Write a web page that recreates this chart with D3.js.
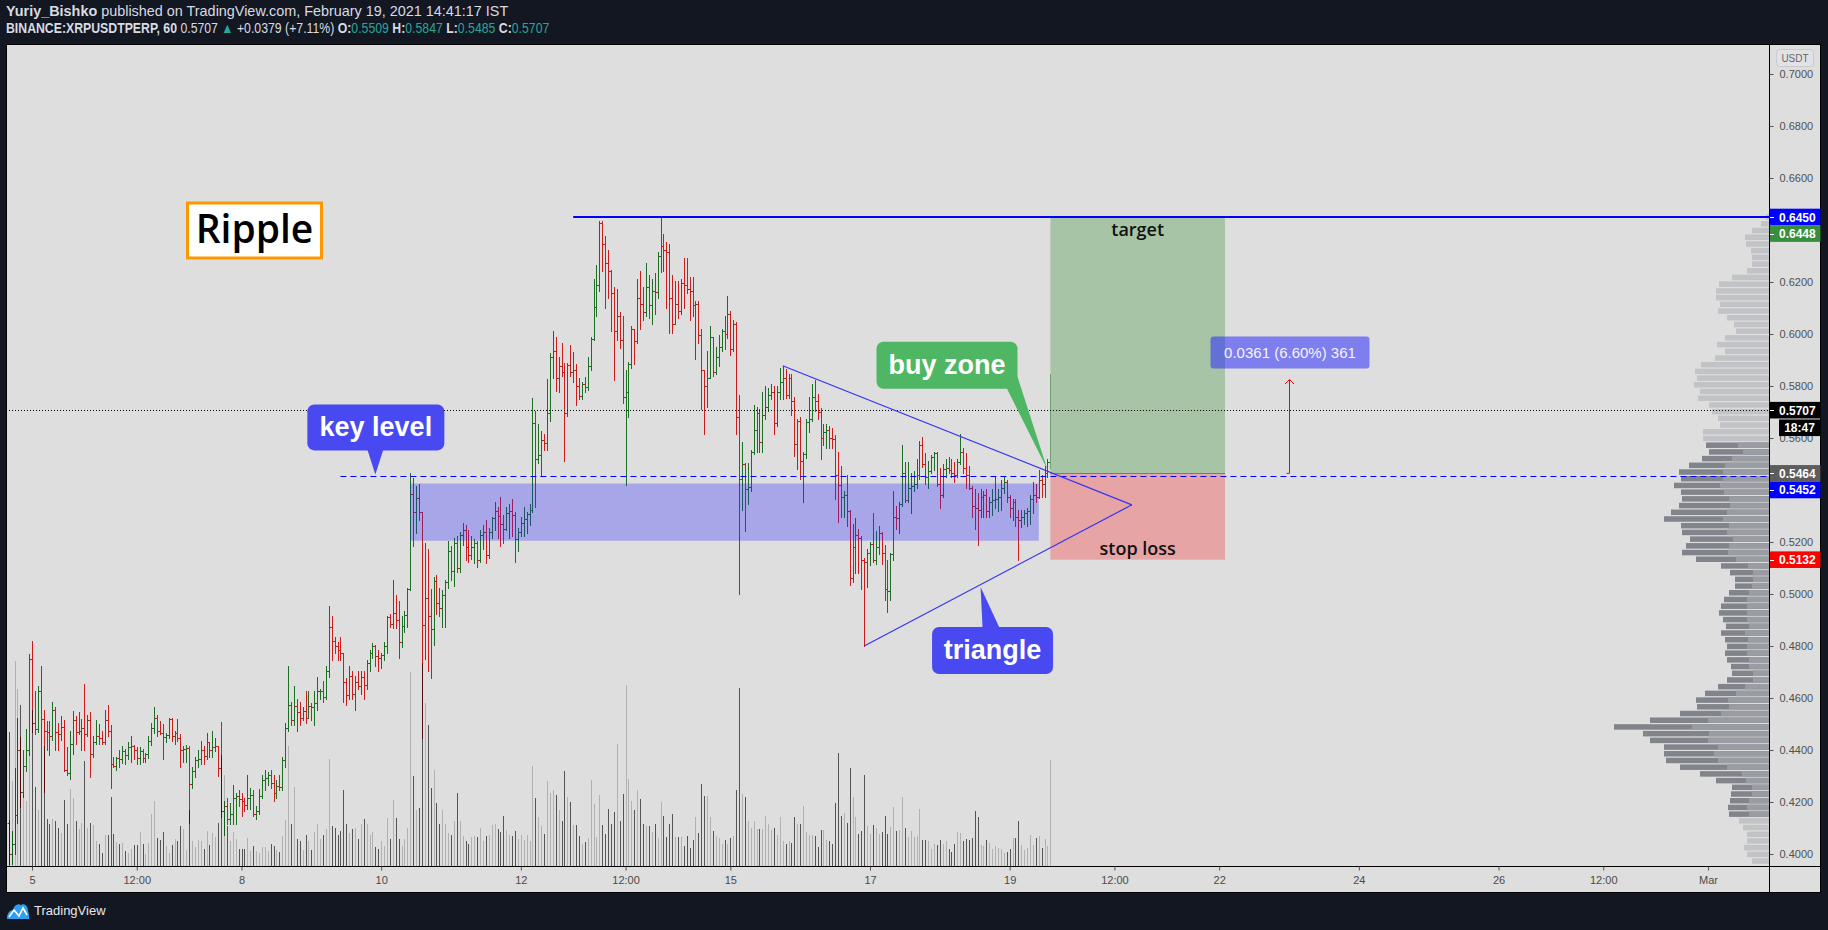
<!DOCTYPE html>
<html><head><meta charset="utf-8">
<script src="https://cdn.jsdelivr.net/npm/d3@7/dist/d3.min.js"></script>
<style>html,body{margin:0;padding:0;background:#131722;overflow:hidden}svg{display:block}</style>
</head><body>
<svg id="chart" width="1828" height="930"></svg>
<script>
// ---------------- DATA ----------------
const firstBarUTC = Date.UTC(2021, 1, 4, 16); // hourly bars, BINANCE:XRPUSDTPERP 60
const opens = [
.412,.400,.404,.415,.440,.424,.434,.440,.475,.4505,
.448,.4625,.452,.4475,.447,.4455,.4555,.447,.446,.449,
.4325,.431,.4425,.4515,.447,.4475,.4485,.446,.4515,.4386,
.4432,.4455,.4445,.443,.4515,.4475,.4345,.434,.437,.4365,
.4395,.438,.4412,.4415,.440,.4369,.4395,.437,.4385,.4435,
.4485,.4525,.4475,.4465,.445,.4458,.452,.4455,.4465,.4445,
.440,.4405,.4408,.427,.432,.436,.4365,.440,.4376,.443,
.440,.441,.4415,.4332,.4165,.4185,.4135,.4155,.4215,.4222,
.4212,.4205,.419,.4215,.4228,.4152,.4165,.4225,.4285,.4292,
.4305,.4275,.4235,.4262,.4258,.436,.4485,.4575,.4515,.457,
.4545,.4525,.455,.4525,.457,.4565,.458,.4625,.4628,.4605,
.4705,.4875,.482,.480,.4785,.4775,.466,.461,.4685,.4615,
.466,.4645,.468,.465,.4735,.4775,.480,.476,.4752,.4765,
.480,.491,.4886,.4926,.490,.4815,.4878,.4918,.502,.5386,
.5315,.537,.5315,.488,.4985,.4915,.4865,.505,.4965,.4945,
.4995,.5045,.5165,.509,.5195,.510,.5227,.5245,.518,.515,
.518,.5195,.513,.5227,.524,.515,.524,.5291,.532,.530,
.527,.525,.531,.532,.5305,.5211,.524,.5275,.529,.5307,
.5325,.5656,.552,.5535,.5593,.558,.5696,.591,.5934,.583,
.5878,.5854,.5696,.588,.5854,.5862,.5799,.5762,.5807,.5798,
.5878,.598,.6105,.6188,.6426,.6346,.6275,.6243,.6156,.6013,
.6069,.5975,.5759,.5775,.5885,.6021,.5973,.614,.6116,.6084,
.618,.611,.6167,.616,.630,.634,.6323,.6315,.614,.6037,
.6116,.6088,.6196,.619,.6172,.6165,.611,.6115,.5997,.5862,
.5799,.583,.599,.5854,.591,.595,.6013,.600,.6077,.5942,
.6037,.568,.5442,.550,.5405,.541,.5545,.5632,.5696,.5585,
.5688,.572,.5767,.5775,.5656,.5775,.5815,.583,.5767,.583,
.5743,.5577,.5664,.5513,.5537,.566,.5675,.5759,.5743,.5700,
.5600,.5624,.5630,.5600,.5596,.5458,.5420,.5374,.5380,.5318,
.5062,.5180,.5228,.5214,.5130,.5124,.5159,.5194,.5131,.5180,
.5235,.5159,.5020,.5013,.5152,.5298,.5291,.5346,.5465,.5360,
.5409,.5415,.5423,.5458,.5575,.5499,.5451,.5472,.5527,.5541,
.5423,.5381,.5482,.5485,.5478,.5465,.5458,.5506,.5548,.5485,
.5458,.5409,.5339,.5332,.5325,.5374,.5381,.5318,.5353,.5360,
.5367,.5374,.5409,.5430,.5374,.5332,.5353,.5298,.5284,.5298,
.5311,.5318,.5367,.5381,.5374,.5437,.5423,.5465,.5509];
const highs = [
.413,.409,.433,.4525,.445,.440,.448,.477,.482,.4625,
.4645,.4725,.4555,.451,.451,.4585,.4565,.4505,.453,.4515,
.441,.4475,.455,.453,.4545,.452,.4655,.4535,.4545,.4455,
.4515,.450,.4475,.4555,.4575,.4495,.4375,.4375,.440,.4415,
.4405,.443,.4455,.442,.441,.4412,.4405,.439,.4455,.4505,
.4565,.4535,.451,.450,.4465,.4525,.4525,.4475,.452,.446,
.4415,.442,.4415,.4335,.4375,.440,.4435,.4415,.4465,.443,
.4475,.4445,.4415,.438,.4205,.4215,.4195,.4265,.4235,.4245,
.4235,.4215,.4305,.4255,.4245,.4185,.425,.4305,.4325,.4315,
.4325,.4305,.4285,.4305,.4375,.4505,.4725,.4585,.4645,.4595,
.4585,.4565,.4625,.4625,.458,.4625,.468,.4635,.4665,.4725,
.4955,.4915,.4835,.4815,.4835,.4775,.4675,.4725,.4705,.4685,
.4705,.4705,.4705,.4745,.4785,.481,.4805,.4785,.4775,.4815,
.4915,.4925,.5055,.4995,.4975,.4915,.4935,.5025,.5464,.5445,
.5415,.5425,.5315,.5195,.5175,.502,.5065,.5075,.5025,.5015,
.5055,.5205,.5185,.5215,.5225,.524,.5275,.5265,.5245,.5225,
.521,.5205,.5245,.5265,.5285,.5255,.5295,.5355,.5335,.5375,
.5305,.5335,.5345,.5365,.5315,.5255,.5295,.5335,.5315,.5345,
.5755,.5705,.5655,.5625,.5615,.5825,.5925,.601,.599,.591,
.5965,.589,.589,.5958,.593,.5885,.583,.5815,.5835,.591,
.599,.6212,.6267,.6434,.6434,.6378,.6323,.6245,.618,.6172,
.6085,.6069,.5862,.5894,.6029,.6021,.6212,.6243,.618,.6275,
.6228,.6212,.6236,.6315,.645,.6386,.6355,.6346,.6228,.6204,
.6204,.6212,.6291,.6291,.622,.622,.6125,.6125,.6021,.5862,
.5934,.6029,.599,.595,.5997,.6021,.607,.6148,.609,.6053,
.6045,.5767,.5585,.5505,.5505,.5553,.5727,.572,.571,.5775,
.5799,.5791,.5807,.5799,.5799,.587,.5878,.5866,.5845,.5845,
.5759,.5672,.568,.5545,.5672,.5759,.5807,.5822,.5770,.5714,
.5652,.5652,.5645,.5638,.5610,.5548,.5492,.5395,.5458,.5325,
.5270,.5291,.5249,.5225,.5140,.5175,.5201,.5311,.5242,.5263,
.5240,.5187,.5131,.5159,.5395,.5339,.5353,.5575,.5506,.5506,
.5465,.5472,.5520,.5589,.5603,.5541,.5513,.5534,.5545,.5545,
.5485,.5499,.5520,.5527,.5520,.5506,.5520,.5617,.5562,.5541,
.5492,.5415,.5402,.5388,.5402,.5395,.5402,.5374,.5402,.5451,
.5402,.5437,.5451,.5437,.5381,.5367,.5367,.5325,.5325,.5325,
.5332,.5381,.5430,.5423,.5478,.5458,.5492,.5520,.5847];
const lows = [
.396,.396,.400,.412,.418,.422,.432,.438,.447,.446,
.447,.424,.424,.440,.438,.444,.440,.440,.444,.432,
.4305,.429,.4385,.4425,.446,.440,.440,.4455,.4295,.4375,
.4425,.4425,.4425,.4425,.4455,.4255,.4335,.4325,.4335,.435,
.4345,.4365,.4355,.4365,.4345,.4345,.4355,.4355,.437,.442,
.4465,.4455,.446,.4365,.443,.4445,.4435,.4425,.4435,.4335,
.4355,.4355,.412,.4255,.4295,.4335,.4345,.4345,.4365,.4375,
.4375,.4395,.430,.4144,.4075,.4115,.4115,.4115,.4115,.4185,
.4145,.4165,.4175,.4175,.4145,.4135,.4155,.4215,.4245,.4265,
.4255,.4205,.4215,.4245,.4245,.4335,.4475,.4495,.4495,.4475,
.4495,.4515,.4505,.4525,.4515,.4495,.4555,.4595,.4585,.4595,
.468,.4745,.4775,.4745,.4745,.4585,.4575,.4595,.4595,.4555,
.4635,.4615,.4595,.4635,.4705,.4755,.4725,.4705,.4715,.4745,
.4775,.4875,.487,.487,.4755,.4795,.4855,.4875,.5015,.5185,
.5235,.5285,.4445,.475,.4705,.4675,.4805,.4925,.4915,.4875,
.4875,.5025,.5055,.503,.5085,.5085,.519,.513,.5125,.5135,
.512,.5105,.5125,.5175,.512,.514,.5215,.5245,.5215,.5185,
.5195,.5245,.5215,.5225,.5125,.5165,.5225,.5225,.5235,.5265,
.5315,.5335,.5505,.5455,.5555,.5555,.5665,.583,.578,.5775,
.584,.551,.5685,.584,.5815,.5727,.575,.575,.5775,.5783,
.586,.5975,.6069,.6165,.6243,.610,.614,.6013,.5823,.5975,
.5945,.5735,.5418,.568,.587,.5886,.5965,.6021,.6053,.6069,
.6061,.6037,.6077,.614,.624,.6243,.610,.6005,.6005,.6037,
.6061,.6077,.610,.6156,.6053,.6069,.5902,.5966,.5712,.5617,
.572,.583,.5839,.5845,.5878,.5935,.5942,.5985,.5918,.5934,
.5617,.500,.5323,.5243,.5347,.5395,.5537,.5545,.5545,.5545,
.5672,.5705,.5751,.5617,.5645,.5751,.5751,.5755,.5755,.5688,
.5529,.5482,.5442,.5354,.5525,.5624,.5665,.5704,.5673,.5520,
.5575,.5562,.5562,.5562,.5367,.5277,.5298,.5298,.5263,.5034,
.5045,.5082,.5082,.5020,.4800,.5027,.5110,.5124,.5117,.5152,
.5117,.4978,.4929,.4978,.5131,.5249,.5235,.5340,.5353,.5355,
.5311,.5395,.5409,.5444,.5490,.5423,.5409,.5465,.5478,.5415,
.5332,.5375,.5451,.5465,.5451,.5430,.5450,.5500,.5465,.5409,
.5402,.5298,.5249,.5187,.5298,.5298,.5298,.5298,.5304,.5332,
.5318,.5325,.5388,.5353,.5298,.5284,.5263,.5131,.5256,.5270,
.5263,.5270,.5311,.5353,.5370,.5374,.5374,.5451,.5485];
const closes = [
.400,.404,.415,.440,.424,.434,.440,.475,.4505,.448,
.4625,.452,.4475,.447,.4455,.4555,.447,.446,.449,.4325,
.431,.4425,.4515,.447,.4475,.4485,.446,.4515,.4386,.4432,
.4455,.4445,.443,.4515,.4475,.4345,.434,.437,.4365,.4395,
.438,.4412,.4415,.440,.4369,.4395,.437,.4385,.4435,.4485,
.4525,.4475,.4465,.445,.4458,.452,.4455,.4465,.4445,.440,
.4405,.4408,.427,.432,.436,.4365,.440,.4376,.443,.440,
.441,.4415,.4332,.4165,.4185,.4135,.4155,.4215,.4222,.4212,
.4205,.419,.4215,.4228,.4152,.4165,.4225,.4285,.4292,.4305,
.4275,.4235,.4262,.4258,.436,.4485,.4575,.4515,.457,.4545,
.4525,.455,.4525,.457,.4565,.458,.4625,.4628,.4605,.4705,
.4875,.482,.480,.4785,.4775,.466,.461,.4685,.4615,.466,
.4645,.468,.465,.4735,.4775,.480,.476,.4752,.4765,.480,
.491,.4886,.4926,.490,.4815,.4878,.4918,.502,.5386,.5315,
.537,.5315,.488,.4985,.4915,.4865,.505,.4965,.4945,.4995,
.5045,.5165,.509,.5195,.510,.5227,.5245,.518,.515,.518,
.5195,.513,.5227,.524,.515,.524,.5291,.532,.530,.527,
.525,.531,.532,.5305,.5211,.524,.5275,.529,.5307,.5325,
.5656,.552,.5535,.5593,.558,.5696,.591,.5934,.583,.5878,
.5854,.5696,.588,.5854,.5862,.5799,.5762,.5807,.5798,.5878,
.598,.6105,.6188,.6426,.6346,.6275,.6243,.6156,.6013,.6069,
.5975,.5759,.5775,.5885,.6021,.5973,.614,.6116,.6084,.618,
.611,.6167,.616,.630,.634,.6323,.6315,.614,.6037,.6116,
.6088,.6196,.619,.6172,.6165,.611,.6115,.5997,.5862,.5799,
.583,.599,.5854,.591,.595,.6013,.600,.6077,.5942,.6037,
.568,.5442,.550,.5405,.541,.5545,.5632,.5696,.5585,.5688,
.572,.5767,.5775,.5656,.5775,.5815,.583,.5767,.583,.5743,
.5577,.5664,.5513,.5537,.566,.5675,.5759,.5743,.5700,.5600,
.5624,.5630,.5600,.5596,.5458,.5420,.5374,.5380,.5318,.5062,
.5180,.5228,.5214,.5130,.5124,.5159,.5194,.5131,.5180,.5235,
.5159,.5020,.5013,.5152,.5298,.5291,.5346,.5465,.5360,.5409,
.5415,.5423,.5458,.5575,.5499,.5451,.5472,.5527,.5541,.5423,
.5381,.5482,.5485,.5478,.5465,.5458,.5506,.5548,.5485,.5458,
.5409,.5339,.5332,.5325,.5374,.5381,.5318,.5353,.5360,.5367,
.5374,.5409,.5430,.5374,.5332,.5353,.5298,.5284,.5298,.5311,
.5318,.5367,.5381,.5374,.5437,.5423,.5465,.5509,.5707];
const volumes = [
134,85,205,177,161,73,65,113,156,79, 56,73,120,47,42,47,45,38,33,66,
42,77,68,45,37,43,105,38,43,41, 25,22,13,31,31,69,32,24,22,23,
15,13,17,21,21,34,22,12,23,52, 65,28,26,34,20,13,21,27,25,40,
37,16,56,25,19,26,25,17,35,21, 33,29,43,144,91,40,25,34,27,17,
17,17,28,15,20,15,13,19,19,15, 22,20,16,14,30,46,120,42,79,27,
25,16,31,25,16,34,42,27,31,37, 107,40,38,31,35,76,42,33,37,38,
27,42,47,42,31,34,19,17,25,20, 48,27,66,48,27,20,27,38,194,90,
56,58,203,163,141,78,96,63,42,56, 42,33,31,45,73,45,30,25,22,29,
30,29,38,25,30,31,41,42,37,34, 50,36,31,30,35,27,31,26,31,25,
100,68,49,40,32,85,73,76,71,56, 45,95,69,64,41,41,30,22,24,28,
86,62,29,71,41,32,57,42,54,122, 45,72,181,87,65,56,76,67,42,40,
40,34,42,28,64,50,29,42,52,29, 29,29,20,30,18,26,49,33,82,70,
70,49,35,30,28,22,26,22,28,30, 76,178,72,69,45,38,45,37,37,37,
50,42,36,38,31,49,25,22,25,23, 49,42,42,60,34,31,31,30,19,36,
36,26,25,22,63,113,50,53,43,98, 69,49,32,35,91,40,32,41,38,32,
34,50,32,39,59,35,36,69,38,29, 35,29,30,57,26,26,25,17,22,21,
26,22,25,17,14,22,34,33,25,27, 26,28,55,49,21,20,26,23,17,20,
18,17,13,14,17,28,28,45,21,16, 18,31,21,28,30,18,27,20,106];

// volume profile (visible range), rows listed top -> bottom
const profileTopPrice = 0.6462;
const profileRowSize = 0.00258;
const profileTotal = [3,8,17,24,23,18,17,17,22,37, 50,53,53,49,51,42,35,33,44,52, 44,54,68,74,72,75,69,71,60,57, 51,49,66,66,
 63,60,67,80,90,88,95,88,87,90, 98,105,88,87,79,83,87,73,48,39, 34,34,40,45,48,50,46,43,48,44, 42,44,42,38,37,42,51,64,73,72,
 89,119,155,126,119,105,105,103,89,69, 53,37,38,39,41,40,
 30,26,22,22,25,22,17];
const profileUp = [0,0,0,0,0,0,0,0,0,0, 0,0,0,0,0,0,0,0,0,0, 0,0,0,0,0,0,0,0,0,0, 0,0,0,0,
 31,26,37,44,46,46,49,45,40,39, 42,46,40,42,36,40,41,33,21,16, 16,17,20,22,22,22,22,20,24,21, 22,22,20,20,16,16,24,33,41,40,
 48,61,77,60,61,51,55,51,42,27, 23,17,17,20,22,20,
 0,0,0,0,0,0,0];
const valueAreaRows = [34, 89];

// axes
const priceTicks = [0.40,0.42,0.44,0.46,0.48,0.50,0.52,0.54,0.56,0.58,0.60,0.62,0.64,0.66,0.68,0.70];
const timeTickDates = [Date.UTC(2021,1,5),Date.UTC(2021,1,6,12),Date.UTC(2021,1,8),Date.UTC(2021,1,10),Date.UTC(2021,1,12),
 Date.UTC(2021,1,13,12),Date.UTC(2021,1,15),Date.UTC(2021,1,17),Date.UTC(2021,1,19),Date.UTC(2021,1,20,12),
 Date.UTC(2021,1,22),Date.UTC(2021,1,24),Date.UTC(2021,1,26),Date.UTC(2021,1,27,12),Date.UTC(2021,2,1)];
const timeTickLabels = ["5","12:00","8","10","12","12:00","15","17","19","12:00","22","24","26","12:00","Mar"];

// drawings (time, price)
const topLevel = {t: Date.UTC(2021,1,12,18), p: 0.6450};
const keyLevel = {t: Date.UTC(2021,1,9,10), p: 0.5452};
const lastPrice = 0.5707;
const demandZone = {t0: Date.UTC(2021,1,10,10), t1: Date.UTC(2021,1,19,10), p0: 0.5425, p1: 0.5205};
const triangleUpper = [{t: Date.UTC(2021,1,15,18), p: 0.5878}, {t: Date.UTC(2021,1,20,18), p: 0.5343}];
const triangleLower = [{t: Date.UTC(2021,1,16,22), p: 0.4800}, {t: Date.UTC(2021,1,20,18), p: 0.5343}];
const position = {t0: Date.UTC(2021,1,19,14), t1: Date.UTC(2021,1,22,2), entry: 0.5464, target: 0.6448, stop: 0.5132};
const measure = {t: Date.UTC(2021,1,23,0), p0: 0.5464, p1: 0.5825, text: "0.0361 (6.60%) 361"};
const callouts = [
  {text: "key level", t: Date.UTC(2021,1,9,22), p: 0.5460, kind: "down"},
  {text: "buy zone", t: Date.UTC(2021,1,19,13), p: 0.5478, kind: "diag"},
  {text: "triangle", t: Date.UTC(2021,1,18,14), p: 0.5027, kind: "up"}
];
const axisLabels = [
  {p: 0.6450, text: "0.6450", bg: "#0000ff", fg: "#ffffff"},
  {p: 0.6448, text: "0.6448", bg: "#388e3c", fg: "#ffffff"},
  {p: 0.5707, text: "0.5707", bg: "#000000", fg: "#ffffff", sub: "18:47"},
  {p: 0.5464, text: "0.5464", bg: "#5d5d5d", fg: "#ffffff"},
  {p: 0.5452, text: "0.5452", bg: "#0000ff", fg: "#ffffff"},
  {p: 0.5132, text: "0.5132", bg: "#ff0000", fg: "#ffffff"}
];

// ---------------- LAYOUT ----------------
const W = 1828, H = 930;
const PL = 6, PT = 44, PR = 1769, PB = 866, AR = 1821, AB = 893;
const svg = d3.select("#chart");
const SANS = '"Liberation Sans", Arial, sans-serif';

const x = d3.scaleUtc().domain([Date.UTC(2021,1,5), Date.UTC(2021,2,1)]).range([32, 1708]);
const y = d3.scaleLinear().domain([0.40, 0.70]).range([854, 74]);
const yVol = d3.scaleLinear().domain([0, 210]).range([PB, PB - 210]);
const wProf = d3.scaleLinear().domain([0, 155]).range([0, 155]);

svg.append("rect").attr("width", W).attr("height", H).attr("fill", "#131722");
svg.append("rect").attr("x", PL + 0.5).attr("y", PT + 0.5).attr("width", AR - PL - 1).attr("height", AB - PT - 1)
  .attr("fill", "#dedede").attr("stroke", "#000");

svg.append("clipPath").attr("id", "plot").append("rect")
  .attr("x", PL + 1).attr("y", PT + 1).attr("width", PR - PL - 1).attr("height", PB - PT - 1);
const plot = svg.append("g").attr("clip-path", "url(#plot)");

const times = opens.map((_, i) => new Date(firstBarUTC + i * 3600e3));
const px = i => Math.round(x(times[i])) + 0.5;
const py = v => Math.round(y(v)) + 0.5;

// OHLC bars
let upPath = "", dnPath = "";
opens.forEach((o, i) => {
  const c = closes[i], xi = px(i);
  const hi = Math.max(highs[i], o, c), lo = Math.min(lows[i], o, c);
  const s = `M${xi},${Math.round(y(hi))}V${Math.round(y(lo)) + 1}M${xi - 2},${py(o)}H${xi}M${xi},${py(c)}H${xi + 2}`;
  if (c >= o) upPath += s; else dnPath += s;
});
plot.append("path").attr("d", upPath).attr("stroke", "#1c6e22").attr("stroke-width", 1).attr("fill", "none");
plot.append("path").attr("d", dnPath).attr("stroke", "#cf1b1b").attr("stroke-width", 1).attr("fill", "none");

// volume
plot.append("g").selectAll("line").data(volumes).join("line")
  .attr("x1", (d, i) => px(i)).attr("x2", (d, i) => px(i))
  .attr("y1", PB).attr("y2", d => yVol(d))
  .attr("stroke", (d, i) => closes[i] >= opens[i] ? "rgba(0,0,0,0.2)" : "rgba(0,0,0,0.62)")
  .attr("stroke-width", 1);

// demand zone
plot.append("rect").attr("x", x(demandZone.t0)).attr("y", y(demandZone.p0))
  .attr("width", x(demandZone.t1) - x(demandZone.t0)).attr("height", y(demandZone.p1) - y(demandZone.p0))
  .attr("fill", "rgba(35,35,255,0.3)");

// volume profile
const rowH = y(0) - y(profileRowSize);
profileTotal.forEach((v, k) => {
  const pc = profileTopPrice - (k + 0.5) * profileRowSize;
  const yc = y(pc);
  const inVA = k >= valueAreaRows[0] && k <= valueAreaRows[1];
  plot.append("rect").attr("x", PR - wProf(v)).attr("y", yc - rowH / 2 + 0.5).attr("width", wProf(v)).attr("height", rowH - 1.2)
    .attr("fill", inVA ? "#81848b" : "#c2c3c7");
  if (profileUp[k] > 0) {
    plot.append("rect").attr("x", PR - wProf(profileUp[k])).attr("y", yc - rowH / 2 + 0.5).attr("width", wProf(profileUp[k])).attr("height", rowH - 1.2)
      .attr("fill", "#999ca2");
  }
});

// position box
const pbx0 = x(position.t0), pbx1 = x(position.t1);
plot.append("rect").attr("x", pbx0).attr("y", y(position.target)).attr("width", pbx1 - pbx0)
  .attr("height", y(position.entry) - y(position.target)).attr("fill", "#a7c5a6");
plot.append("rect").attr("x", pbx0).attr("y", y(position.entry)).attr("width", pbx1 - pbx0)
  .attr("height", y(position.stop) - y(position.entry)).attr("fill", "#e6a4a4");
plot.append("line").attr("x1", pbx0).attr("x2", pbx1).attr("y1", py(position.entry)).attr("y2", py(position.entry))
  .attr("stroke", "#7a7a7a").attr("stroke-width", 1);
plot.append("text").attr("x", (pbx0 + pbx1) / 2).attr("y", y(position.target) + 18).attr("text-anchor", "middle")
  .attr("fill", "#111").style("font", '600 18px "Open Sans", sans-serif').text("target");
plot.append("text").attr("x", (pbx0 + pbx1) / 2).attr("y", y(position.stop) - 5).attr("text-anchor", "middle")
  .attr("fill", "#111").style("font", '600 18px "Open Sans", sans-serif').text("stop loss");

// lines
plot.append("line").attr("x1", x(topLevel.t)).attr("x2", PR).attr("y1", y(topLevel.p)).attr("y2", y(topLevel.p))
  .attr("stroke", "#0000ff").attr("stroke-width", 2);
plot.append("line").attr("x1", x(keyLevel.t)).attr("x2", PR).attr("y1", py(keyLevel.p)).attr("y2", py(keyLevel.p))
  .attr("stroke", "#0000ff").attr("stroke-width", 1).attr("stroke-dasharray", "6,4");
plot.append("line").attr("x1", PL).attr("x2", PR).attr("y1", py(lastPrice)).attr("y2", py(lastPrice))
  .attr("stroke", "#000").attr("stroke-width", 1).attr("stroke-dasharray", "1,2");
[triangleUpper, triangleLower].forEach(seg => {
  plot.append("line").attr("x1", x(seg[0].t)).attr("y1", y(seg[0].p)).attr("x2", x(seg[1].t)).attr("y2", y(seg[1].p))
    .attr("stroke", "#3535f2").attr("stroke-width", 1.2);
});

// measure
const mx = Math.round(x(measure.t)) + 0.5, my0 = y(measure.p0), my1 = y(measure.p1);
plot.append("path").attr("d", `M${mx - 3},${my0}H${mx}V${my1}M${mx - 4.5},${my1 + 4.5}L${mx},${my1}L${mx + 4.5},${my1 + 4.5}`)
  .attr("stroke", "#ff0000").attr("fill", "none").attr("stroke-width", 1);
plot.append("rect").attr("x", mx - 79).attr("y", my1 - 43).attr("width", 159).attr("height", 32).attr("rx", 3)
  .attr("fill", "rgba(30,30,255,0.5)");
plot.append("text").attr("x", mx + 0.5).attr("y", my1 - 22).attr("text-anchor", "middle").attr("fill", "#f4f4ff")
  .style("font", `15px ${SANS}`).text(measure.text);

// callouts
callouts.forEach(c => {
  const tx = x(c.t), ty = y(c.p);
  let r, tri, fill;
  if (c.kind === "down") {
    r = {x: tx - 68, y: ty - 70, w: 137, h: 46}; fill = "#4949f1";
    tri = [[tx - 8, r.y + r.h - 1], [tx + 8, r.y + r.h - 1], [tx, ty]];
  } else if (c.kind === "diag") {
    r = {x: tx - 171, y: ty - 128, w: 141, h: 47}; fill = "#4fb763";
    tri = [[tx - 41, r.y + r.h - 1], [r.x + r.w, r.y + r.h - 12], [tx, ty]];
  } else {
    r = {x: tx - 48.5, y: ty + 40, w: 121, h: 47}; fill = "#4949f1";
    tri = [[tx + 2, r.y + 1], [tx + 19, r.y + 1], [tx, ty]];
  }
  plot.append("rect").attr("x", r.x).attr("y", r.y).attr("width", r.w).attr("height", r.h).attr("rx", 7).attr("fill", fill);
  plot.append("path").attr("d", "M" + tri.map(p => p.join(",")).join("L") + "Z").attr("fill", fill);
  plot.append("text").attr("x", r.x + r.w / 2).attr("y", r.y + r.h / 2 + 9).attr("text-anchor", "middle")
    .attr("fill", "#fff").style("font", `bold 27px ${SANS}`).text(c.text);
});

// Ripple title box
plot.append("rect").attr("x", 187.5).attr("y", 203).attr("width", 134).attr("height", 55)
  .attr("fill", "#fff").attr("stroke", "#ff9800").attr("stroke-width", 3);
plot.append("text").attr("x", 254.5).attr("y", 243).attr("text-anchor", "middle").attr("fill", "#000")
  .style("font", '600 39px "Open Sans", sans-serif').text("Ripple");

// separators
svg.append("line").attr("x1", PR + 0.5).attr("x2", PR + 0.5).attr("y1", PT).attr("y2", AB).attr("stroke", "#000");
svg.append("line").attr("x1", PL).attr("x2", AR).attr("y1", PB + 0.5).attr("y2", PB + 0.5).attr("stroke", "#000");

// axis price labels: resolve stacking first
const LH = 16.6;
let lastBottom = -1e9;
const placedLabels = axisLabels.map(l => ({...l, yc: y(l.p)})).sort((a, b) => a.yc - b.yc).map(l => {
  let yc = l.yc;
  if (yc - LH / 2 < lastBottom) yc = lastBottom + LH / 2;
  lastBottom = yc + LH / 2 + (l.sub ? LH : 0);
  return {...l, yc};
});
const hiddenTick = v => placedLabels.some(l => Math.abs(y(v) - l.yc) < LH * 0.75);

// axes
const yAxis = d3.axisRight(y).tickValues(priceTicks).tickFormat(d => hiddenTick(d) ? "" : d3.format(".4f")(d)).tickSize(4).tickPadding(6);
const gy = svg.append("g").attr("transform", `translate(${PR + 0.5},0)`).call(yAxis);
gy.select(".domain").remove();
gy.selectAll("line").attr("stroke", "#555");
gy.selectAll("text").attr("fill", "#505050").style("font", `11px ${SANS}`);

const xAxis = d3.axisBottom(x).tickValues(timeTickDates.map(d => new Date(d))).tickFormat((d, i) => timeTickLabels[i]).tickSize(4).tickPadding(6);
const gx = svg.append("g").attr("transform", `translate(0,${PB + 0.5})`).call(xAxis);
gx.select(".domain").remove();
gx.selectAll("line").attr("stroke", "#555");
gx.selectAll("text").attr("fill", "#4a4a4a").style("font", `11px ${SANS}`);

// USDT badge
svg.append("rect").attr("x", 1776.5).attr("y", 49.5).attr("width", 37).attr("height", 17).attr("rx", 3)
  .attr("fill", "#e2e2e6").attr("stroke", "#c9c9d0");
svg.append("text").attr("x", 1795).attr("y", 62).attr("text-anchor", "middle").attr("fill", "#666")
  .style("font", `10px ${SANS}`).text("USDT");

placedLabels.forEach(l => {
  const yc = l.yc;
  svg.append("rect").attr("x", PR + 1).attr("y", yc - LH / 2).attr("width", AR - PR - 1.5).attr("height", LH).attr("fill", l.bg);
  svg.append("line").attr("x1", PR + 1).attr("x2", PR + 5).attr("y1", Math.round(yc) + 0.5).attr("y2", Math.round(yc) + 0.5).attr("stroke", l.fg);
  svg.append("text").attr("x", PR + 10).attr("y", yc + 4.5).attr("fill", l.fg).style("font", `bold 12px ${SANS}`).text(l.text);
  if (l.sub) {
    svg.append("rect").attr("x", PR + 10).attr("y", yc + LH / 2 + 1).attr("width", 41).attr("height", LH).attr("fill", "#000");
    svg.append("text").attr("x", PR + 30.5).attr("y", yc + LH + 5.5).attr("text-anchor", "middle").attr("fill", "#fff")
      .style("font", `bold 12px ${SANS}`).text(l.sub);
  }
});

// header (fitted to the widths seen in the reference)
const h1 = svg.append("text").attr("x", 0).attr("y", 0).attr("fill", "#d8dbe2").style("font", `14px ${SANS}`);
h1.append("tspan").attr("font-weight", "bold").text("Yuriy_Bishko");
h1.append("tspan").text(" published on TradingView.com, February 19, 2021 14:41:17 IST");
const h2 = svg.append("text").attr("x", 0).attr("y", 0).attr("fill", "#d8dbe2").style("font", `14px ${SANS}`);
const teal = "#26a69a";
[["BINANCE:XRPUSDTPERP, 60 ", null, true], ["0.5707 ", null, false], ["▲ ", teal, false], ["+0.0379 (+7.11%) ", null, false],
 ["O:", null, true], ["0.5509 ", teal, false], ["H:", null, true], ["0.5847 ", teal, false],
 ["L:", null, true], ["0.5485 ", teal, false], ["C:", null, true], ["0.5707", teal, false]].forEach(([t, col, b]) => {
  const ts = h2.append("tspan").text(t);
  if (col) ts.attr("fill", col);
  if (b) ts.attr("font-weight", "bold");
});
[[h1, 16, 503], [h2, 33, 544]].forEach(([t, yy, target]) => {
  const w = t.node().getComputedTextLength() || target;
  t.attr("transform", `translate(6,${yy}) scale(${target / w},1)`);
});

// TradingView logo
const logo = svg.append("g").attr("transform", "translate(7,902)");
logo.append("path").attr("d", "M0,17 C0,11 3,8 6,8 C7,3 11,1 14,3 C17,1 21,4 21,9 C22,11 22,14 22,17 Z").attr("fill", "#2f9ff5");
logo.append("path").attr("d", "M2,15 L7,8 L12,14 L16,6 L20,13").attr("stroke", "#fff").attr("stroke-width", 1.6).attr("fill", "none");
svg.append("text").attr("x", 34).attr("y", 915).attr("fill", "#e8e8e8").style("font", `13px ${SANS}`).text("TradingView");
</script>
</body></html>
